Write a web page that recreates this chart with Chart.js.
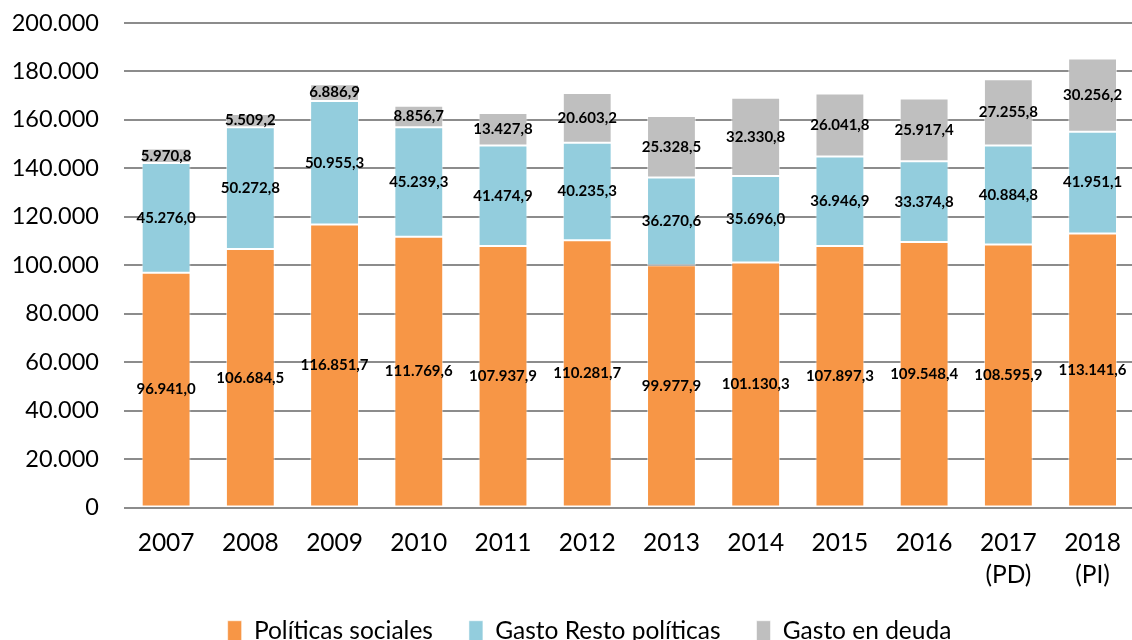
<!DOCTYPE html>
<html>
<head>
<meta charset="utf-8">
<script src="https://cdn.jsdelivr.net/npm/chart.js@4/dist/chart.umd.min.js"></script>
<style>
  html, body { margin: 0; padding: 0; overflow: hidden; background: #fff; }
  #wrap { width: 1141px; height: 662px; }
</style>
</head>
<body>
<div id="wrap"><canvas id="myChart" width="1141" height="662"></canvas></div>
<script>
// data (millones)
const years = ['2007', '2008', '2009', '2010', '2011', '2012', '2013', '2014', '2015', '2016', ['2017', '(PD)'], ['2018', '(PI)']];
const politicasSociales = [96941.0, 106684.5, 116851.7, 111769.6, 107937.9, 110281.7, 99977.9, 101130.3, 107897.3, 109548.4, 108595.9, 113141.6];
const gastoResto = [45276.0, 50272.8, 50955.3, 45239.3, 41474.9, 40235.3, 36270.6, 35696.0, 36946.9, 33374.8, 40884.8, 41951.1];
const gastoDeuda = [5970.8, 5509.2, 6886.9, 8856.7, 13427.8, 20603.2, 25328.5, 32330.8, 26041.8, 25917.4, 27255.8, 30256.2];
const seriesNames = ['Políticas sociales', 'Gasto Resto políticas', 'Gasto en deuda'];
const yTicks = [0, 20000, 40000, 60000, 80000, 100000, 120000, 140000, 160000, 180000, 200000];

// spanish number format: 1.234,5
function fmtEs(v, d) {
  let s = v.toFixed(d);
  let parts = s.split('.');
  let i = parts[0].replace(/\B(?=(\d{3})+(?!\d))/g, '.');
  return parts[1] ? i + ',' + parts[1] : i;
}

// write the value in the middle of every segment
const segLabels = {
  id: 'segLabels',
  afterDatasetsDraw(chart) {
    const ctx = chart.ctx;
    ctx.save();
    ctx.font = 'bold 15px Lato';
    ctx.fillStyle = '#000';
    ctx.textAlign = 'center';
    ctx.textBaseline = 'middle';
    chart.data.datasets.forEach(function (ds, i) {
      const meta = chart.getDatasetMeta(i);
      meta.data.forEach(function (bar, j) {
        const p = bar.getProps(['x', 'y', 'base'], true);
        ctx.fillText(fmtEs(ds.data[j], 1), p.x, (p.y + p.base) / 2);
      });
    });
    ctx.restore();
  }
};

// legend sits a bit right of centre and a bit higher than chart.js puts it
const legendShift = {
  id: 'legendShift',
  afterLayout(chart) {
    chart.legend.left += 19;
    chart.legend.right += 19;
    chart.legend.top -= 9;
    chart.legend.bottom -= 9;
  }
};

const ctx = document.getElementById('myChart').getContext('2d');
const chart = new Chart(ctx, {
  type: 'bar',
  data: {
    labels: years,
    datasets: [
      { label: seriesNames[0], data: politicasSociales, backgroundColor: '#F79646' },
      { label: seriesNames[1], data: gastoResto, backgroundColor: '#93CDDD' },
      { label: seriesNames[2], data: gastoDeuda, backgroundColor: '#BFBFBF' }
    ]
  },
  options: {
    responsive: false,
    animation: false,
    devicePixelRatio: 1,
    layout: { padding: { top: 23, left: 0, right: 0, bottom: 0 } },
    datasets: {
      bar: {
        barPercentage: 0.58,
        categoryPercentage: 1,
        borderWidth: 1,
        borderColor: 'rgba(255,255,255,0.55)',
        borderSkipped: false
      }
    },
    plugins: {
      tooltip: { enabled: false },
      legend: {
        position: 'bottom',
        labels: {
          font: { family: 'Lato', size: 24.5 },
          color: '#000',
          boxWidth: 14,
          boxHeight: 20,
          padding: 36
        }
      }
    },
    scales: {
      x: {
        stacked: true,
        grid: { display: false, drawTicks: false },
        border: { display: false },
        ticks: {
          font: { family: 'Lato', size: 24.5, lineHeight: 1.306 },
          color: '#000',
          padding: 20,
          maxRotation: 0,
          autoSkip: false
        },
        afterFit: function (scale) { scale.height = 84; }
      },
      y: {
        stacked: true,
        min: 0,
        max: 200000,
        grid: { color: '#8c8c8c', lineWidth: 2, drawTicks: false },
        border: { display: false },
        afterBuildTicks: function (scale) {
          scale.ticks = yTicks.map(function (v) { return { value: v }; });
        },
        ticks: {
          font: { family: 'Lato', size: 23.5 },
          color: '#000',
          padding: 25,
          callback: function (v) { return fmtEs(v, 0); }
        },
        afterFit: function (scale) {
          scale.width = 124;
          scale.paddingTop = 0;
          scale.paddingBottom = 0;
        }
      }
    }
  },
  plugins: [segLabels, legendShift]
});
</script>
</body>
</html>
